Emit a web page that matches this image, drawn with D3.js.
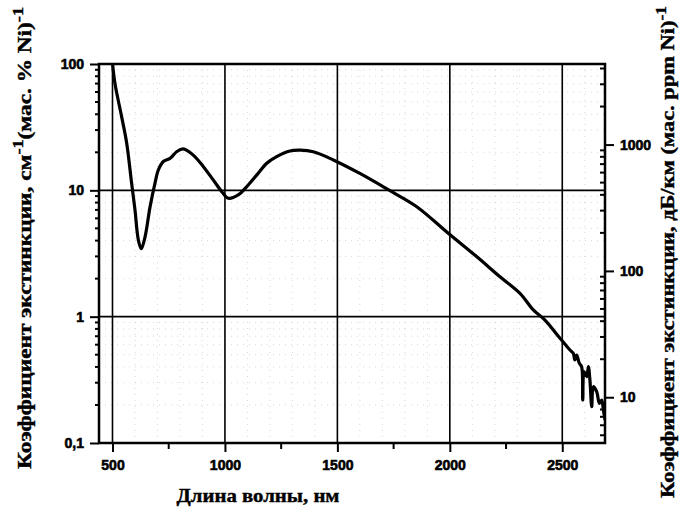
<!DOCTYPE html>
<html>
<head>
<meta charset="utf-8">
<script src="https://cdn.jsdelivr.net/npm/d3@7"></script>
<style>
  body { margin: 0; background: #fff; }
  svg { display: block; }
  .tick-label { font-family: "Liberation Sans", Arial, sans-serif; font-weight: bold; font-size: 14px; stroke: #000; stroke-width: 0.6px; }
  .title { font-family: "Liberation Serif", "Times New Roman", serif; font-weight: bold; stroke: #000; stroke-width: 0.4px; }
</style>
</head>
<body>
<svg id="chart"></svg>
<script>
// wavelength, nm
const wavelength = [500, 511, 541, 563, 585, 600, 615, 628, 645, 667, 689, 704, 726, 756, 785, 815, 859, 904, 948, 986, 1015, 1059, 1097, 1141, 1186, 1230, 1289, 1334, 1393, 1482, 1600, 1734, 1853, 1993, 2119, 2223, 2312, 2371, 2423, 2490, 2534, 2549, 2556, 2564, 2576, 2586, 2591, 2597, 2609, 2616, 2623, 2631, 2638, 2653, 2665, 2675, 2683, 2690];
// extinction coefficient, cm^-1 (mass % Ni)^-1
const extinction = [102, 70, 38, 23.7, 11.4, 7.0, 4.04, 3.45, 4.3, 7.4, 11.4, 14.5, 16.9, 17.9, 20.2, 21.3, 19.0, 15.4, 12.1, 9.76, 8.65, 9.19, 10.7, 13.2, 16.4, 18.5, 20.5, 20.8, 20.2, 17.4, 13.6, 9.93, 7.42, 4.57, 2.99, 2.07, 1.53, 1.13, 0.94, 0.675, 0.545, 0.513, 0.454, 0.497, 0.427, 0.402, 0.219, 0.367, 0.335, 0.402, 0.315, 0.194, 0.279, 0.255, 0.206, 0.219, 0.182, 0.152];

const xTicks = [500, 1000, 1500, 2000, 2500];
const xMinorTicks = [750, 1250, 1750, 2250];
const leftTicks = [0.1, 1, 10, 100];
const leftTickLabels = ["0,1", "1", "10", "100"];
const rightTicks = [10, 100, 1000];
// 1 cm^-1 (mass %)^-1 = 4.343e5 dB/km / 1e4 ppm
const dbFactor = 43.43;

const width = 686, height = 509;
const margin = { top: 64, right: 81, bottom: 66, left: 99 };

const svg = d3.select("#chart")
    .attr("width", width)
    .attr("height", height);

const x = d3.scaleLinear()
    .domain([440, 2690])
    .range([margin.left, width - margin.right]);

const y = d3.scaleLog()
    .domain([0.1, 100])
    .range([height - margin.bottom, margin.top]);

const yRight = d3.scaleLog()
    .domain([0.1 * dbFactor, 100 * dbFactor])
    .range([height - margin.bottom, margin.top]);

function minorLog(scale) {
    const [a, b] = scale.domain();
    const out = [];
    for (let e = Math.floor(Math.log10(a)); e <= Math.ceil(Math.log10(b)); e++) {
        for (let k = 2; k <= 9; k++) {
            const v = k * Math.pow(10, e);
            if (v > a && v < b) out.push(v);
        }
    }
    return out;
}

// faint dotted minor grid
const xGridMinor = d3.range(600, 2690, 100).filter(d => d % 500 !== 0);
svg.append("g")
    .selectAll("line")
    .data(xGridMinor)
    .join("line")
    .attr("x1", d => x(d)).attr("x2", d => x(d))
    .attr("y1", margin.top).attr("y2", height - margin.bottom)
    .attr("stroke", "#d8d8d8").attr("stroke-width", 1).attr("stroke-dasharray", "1,5");

svg.append("g")
    .selectAll("line")
    .data(minorLog(y))
    .join("line")
    .attr("x1", margin.left).attr("x2", width - margin.right)
    .attr("y1", d => y(d)).attr("y2", d => y(d))
    .attr("stroke", "#d8d8d8").attr("stroke-width", 1).attr("stroke-dasharray", "1,5");

// major grid
svg.append("g")
    .selectAll("line")
    .data(xTicks)
    .join("line")
    .attr("x1", d => x(d)).attr("x2", d => x(d))
    .attr("y1", margin.top).attr("y2", height - margin.bottom)
    .attr("stroke", "#000").attr("stroke-width", 1.6);

svg.append("g")
    .selectAll("line")
    .data([1, 10])
    .join("line")
    .attr("x1", margin.left).attr("x2", width - margin.right)
    .attr("y1", d => y(d)).attr("y2", d => y(d))
    .attr("stroke", "#000").attr("stroke-width", 1.6);

// curve
const points = wavelength.map((w, i) => [w, extinction[i]]);
svg.append("defs").append("clipPath").attr("id", "clip")
    .append("rect")
    .attr("x", margin.left).attr("y", margin.top)
    .attr("width", width - margin.left - margin.right)
    .attr("height", height - margin.top - margin.bottom);

svg.append("path")
    .datum(points)
    .attr("clip-path", "url(#clip)")
    .attr("fill", "none")
    .attr("stroke", "#000")
    .attr("stroke-width", 3.2)
    .attr("stroke-linejoin", "round")
    .attr("d", d3.line()
        .x(d => x(d[0]))
        .y(d => y(d[1]))
        .curve(d3.curveCatmullRom.alpha(0.5)));

// axes
const bottom = svg.append("g")
    .attr("transform", `translate(0,${height - margin.bottom})`)
    .call(d3.axisBottom(x).tickValues(xTicks).tickSize(9).tickPadding(8).tickFormat(d3.format("d")));
bottom.append("g").selectAll("line").data(xMinorTicks).join("line")
    .attr("x1", d => x(d)).attr("x2", d => x(d)).attr("y1", 0).attr("y2", 6)
    .attr("stroke", "#000").attr("stroke-width", 2);

const left = svg.append("g")
    .attr("transform", `translate(${margin.left},0)`)
    .call(d3.axisLeft(y).tickValues(leftTicks).tickSize(9).tickPadding(6)
        .tickFormat((d, i) => leftTickLabels[i]));
left.append("g").selectAll("line").data(minorLog(y)).join("line")
    .attr("x1", 0).attr("x2", -4).attr("y1", d => y(d)).attr("y2", d => y(d))
    .attr("stroke", "#000").attr("stroke-width", 2);

const right = svg.append("g")
    .attr("transform", `translate(${width - margin.right},0)`)
    .call(d3.axisRight(yRight).tickValues(rightTicks).tickSize(9).tickPadding(6).tickFormat(d3.format("d")));
right.append("g").selectAll("line").data(minorLog(yRight)).join("line")
    .attr("x1", 0).attr("x2", -5).attr("y1", d => yRight(d)).attr("y2", d => yRight(d))
    .attr("stroke", "#000").attr("stroke-width", 2);

[bottom, left, right].forEach(g => {
    g.select(".domain").remove();
    g.selectAll(".tick line").attr("stroke-width", 2);
    g.selectAll(".tick text").attr("class", "tick-label").attr("fill", "#000");
});

// frame
svg.append("rect")
    .attr("x", margin.left).attr("y", margin.top)
    .attr("width", width - margin.left - margin.right)
    .attr("height", height - margin.top - margin.bottom)
    .attr("fill", "none").attr("stroke", "#000").attr("stroke-width", 2.5);

// titles
svg.append("text")
    .attr("class", "title")
    .attr("x", 258).attr("y", 502)
    .attr("text-anchor", "middle")
    .attr("font-size", 19)
    .attr("textLength", 163).attr("lengthAdjust", "spacingAndGlyphs")
    .text("Длина волны, нм");

const lt = svg.append("text")
    .attr("class", "title")
    .attr("transform", "translate(31,238) rotate(-90)")
    .attr("text-anchor", "middle")
    .attr("font-size", 18)
    .attr("textLength", 462).attr("lengthAdjust", "spacingAndGlyphs");
lt.append("tspan").text("Коэффициент экстинкции, см");
lt.append("tspan").attr("dy", -8).attr("font-size", 14).text("-1");
lt.append("tspan").attr("dy", 8).text("(мас. % Ni)");
lt.append("tspan").attr("dy", -8).attr("font-size", 14).text("-1");

const rt = svg.append("text")
    .attr("class", "title")
    .attr("transform", "translate(674,252) rotate(-90)")
    .attr("text-anchor", "middle")
    .attr("font-size", 18)
    .attr("textLength", 492).attr("lengthAdjust", "spacingAndGlyphs");
rt.append("tspan").text("Коэффициент экстинкции, дБ/км (мас. ppm Ni)");
rt.append("tspan").attr("dy", -8).attr("font-size", 14).text("-1");
</script>
</body>
</html>
